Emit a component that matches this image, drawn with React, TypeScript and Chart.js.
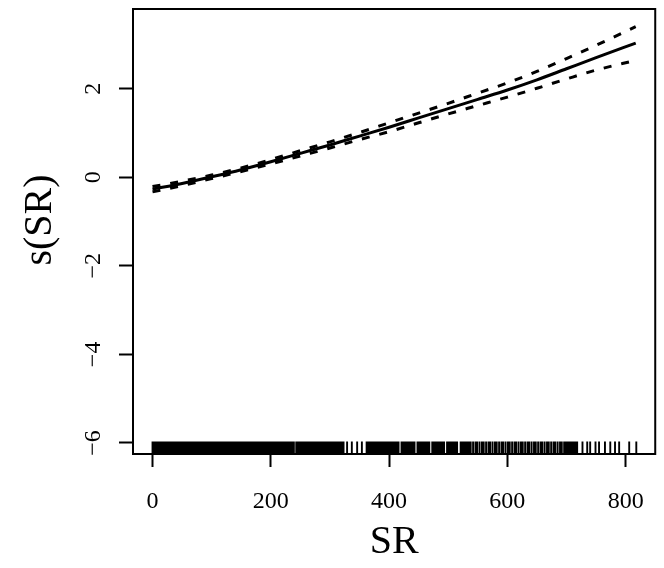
import React, { useEffect, useRef } from "react";
import { Chart, registerables } from "chart.js";

Chart.register(...registerables);

// ---- data ----
const srGrid = [0, 50, 100, 150, 200, 250, 300, 350, 400, 450, 500, 550, 600, 650, 700, 750, 817];
const fitValues = [-0.27, -0.14, 0.01, 0.17, 0.35, 0.54, 0.73, 0.93, 1.13, 1.34, 1.55, 1.76, 1.97, 2.2, 2.45, 2.7, 3.03];
const upperValues = [-0.21, -0.09, 0.05, 0.21, 0.4, 0.6, 0.8, 1.01, 1.23, 1.45, 1.67, 1.9, 2.13, 2.39, 2.68, 2.98, 3.4];
const lowerValues = [-0.33, -0.19, -0.03, 0.13, 0.3, 0.48, 0.66, 0.85, 1.03, 1.23, 1.43, 1.62, 1.81, 2.01, 2.22, 2.42, 2.64];

const rugValues = [
  0, 2, 4, 7, 9, 11, 13, 16, 18, 20, 23, 25, 27, 30, 32, 34, 37, 39, 41, 44, 46, 48, 51, 53, 55, 58, 60, 62, 65, 67,
  69, 72, 74, 76, 79, 81, 83, 86, 88, 90, 93, 95, 97, 100, 102, 104, 107, 109, 111, 114, 116, 118, 121, 123, 125, 128,
  130, 132, 135, 137, 139, 142, 144, 146, 149, 151, 153, 156, 158, 160, 163, 165, 167, 170, 172, 174, 177, 179, 181,
  184, 186, 188, 191, 193, 195, 198, 200, 202, 205, 207, 209, 212, 214, 216, 219, 221, 223, 226, 228, 230, 233, 235, 237,
  239, 243, 245, 247, 250, 252, 255, 257, 260, 262, 265, 267, 270, 272, 275, 277, 280, 282, 285, 287, 290, 292, 295,
  297, 300, 302, 305, 307, 310, 312, 315, 317, 320, 323,
  329, 337, 346, 354,
  362, 365, 368, 371, 374, 377, 380, 383, 386,
  389, 391, 394, 397, 399, 402, 405, 407, 410, 413, 416, 421, 424, 426, 429, 432, 435, 437, 440, 443, 448, 451, 454,
  457, 459, 462, 465, 468, 473, 476, 479, 481, 484, 487, 490, 493, 498, 501, 504, 507, 509, 512, 515, 521, 523, 526,
  529, 532,
  535, 538, 542, 546, 549, 553, 557, 560, 564, 568, 571, 575, 579, 582, 586, 590, 593, 597, 601, 604, 608, 612, 615,
  619, 623, 626, 630, 634, 637, 641, 645, 648, 652, 656, 659, 663, 667, 670, 674, 678, 681, 685, 689, 692, 696,
  699, 701, 704, 707, 709, 712, 715, 718,
  727, 735, 740, 749, 755, 765, 774, 782, 789, 806, 818,
];

const xTickValues = [0, 200, 400, 600, 800];
const yTickValues = [-6, -4, -2, 0, 2];
const xTitle = "SR";
const yTitle = "s(SR)";

const X_MIN = -33;
const X_MAX = 850;
const Y_MIN = -6.25;
const Y_MAX = 3.8;
const RUG_TOP = -5.97;

const SERIF = "'Liberation Serif', 'DejaVu Serif', serif";

const fmt = (v: number) => (v < 0 ? "\u2212" + Math.abs(v) : String(v));

export default function App() {
  const canvasRef = useRef<HTMLCanvasElement | null>(null);

  useEffect(() => {
    const canvas = canvasRef.current;
    if (!canvas) return;

    const toPts = (ys: number[]) => srGrid.map((x, i) => ({ x, y: ys[i] }));
    const rugPts: any[] = [];
    rugValues.forEach((v) => {
      rugPts.push({ x: v, y: Y_MIN });
      rugPts.push({ x: v, y: RUG_TOP });
      rugPts.push({ x: v, y: null });
    });

    const boxPlugin = {
      id: "boxAndYLabels",
      afterDraw(chart: any) {
        const { ctx, chartArea, scales } = chart;
        ctx.save();
        ctx.strokeStyle = "#000";
        ctx.lineWidth = 2;
        ctx.strokeRect(chartArea.left, chartArea.top, chartArea.right - chartArea.left, chartArea.bottom - chartArea.top);
        ctx.fillStyle = "#000";
        ctx.font = `24px ${SERIF}`;
        ctx.textAlign = "center";
        ctx.textBaseline = "middle";
        yTickValues.forEach((v) => {
          const y = scales.y.getPixelForValue(v);
          ctx.save();
          ctx.translate(94, y);
          ctx.rotate(-Math.PI / 2);
          ctx.fillText(fmt(v), 0, 0);
          ctx.restore();
        });
        // y axis title
        ctx.font = `40px ${SERIF}`;
        ctx.save();
        ctx.translate(40, 220);
        ctx.rotate(-Math.PI / 2);
        ctx.fillText(yTitle, 0, 0);
        ctx.restore();
        ctx.restore();
      },
    };

    const chart = new Chart(canvas, {
      type: "line",
      data: {
        datasets: [
          {
            label: "rug",
            data: rugPts,
            borderColor: "#000",
            borderWidth: 1.9,
            pointRadius: 0,
            spanGaps: false,
            tension: 0,
          },
          {
            label: "upper",
            data: toPts(upperValues),
            borderColor: "#000",
            borderWidth: 3,
            borderDash: [8, 10],
            pointRadius: 0,
            cubicInterpolationMode: "monotone",
          },
          {
            label: "lower",
            data: toPts(lowerValues),
            borderColor: "#000",
            borderWidth: 3,
            borderDash: [8, 10],
            pointRadius: 0,
            cubicInterpolationMode: "monotone",
          },
          {
            label: "fit",
            data: toPts(fitValues),
            borderColor: "#000",
            borderWidth: 3,
            pointRadius: 0,
            cubicInterpolationMode: "monotone",
          },
        ],
      },
      options: {
        responsive: false,
        animation: false,
        events: [],
        layout: { padding: { left: 0, top: 9, right: 6, bottom: 0 } },
        plugins: { legend: { display: false }, tooltip: { enabled: false } },
        scales: {
          x: {
            type: "linear",
            min: X_MIN,
            max: X_MAX,
            afterBuildTicks: (scale: any) => {
              scale.ticks = xTickValues.map((v) => ({ value: v }));
            },
            afterFit: (scale: any) => {
              scale.height = 114;
            },
            grid: {
              drawOnChartArea: false,
              drawTicks: true,
              tickLength: 13,
              tickWidth: 2,
              tickColor: "#000",
            },
            border: { display: false },
            ticks: {
              autoSkip: false,
              maxRotation: 0,
              minRotation: 0,
              padding: 20,
              color: "#000",
              font: { family: SERIF, size: 24 },
              callback: (v: any) => fmt(Number(v)),
            },
            title: {
              display: true,
              text: xTitle,
              color: "#000",
              font: { family: SERIF, size: 40, lineHeight: 1 },
              padding: { top: 0, bottom: 6 },
            },
          },
          y: {
            type: "linear",
            min: Y_MIN,
            max: Y_MAX,
            afterBuildTicks: (scale: any) => {
              scale.ticks = yTickValues.map((v) => ({ value: v }));
            },
            afterFit: (scale: any) => {
              scale.width = 133;
            },
            grid: {
              drawOnChartArea: false,
              drawTicks: true,
              tickLength: 14,
              tickWidth: 2,
              tickColor: "#000",
            },
            border: { display: false },
            ticks: { display: false },
            title: { display: false },
          },
        },
      },
      plugins: [boxPlugin],
    } as any);

    return () => chart.destroy();
  }, []);

  return (
    <div style={{ position: "absolute", left: 0, top: 0, width: 664, height: 568, background: "#fff" }}>
      <canvas ref={canvasRef} width={664} height={568} style={{ display: "block" }} />
    </div>
  );
}
